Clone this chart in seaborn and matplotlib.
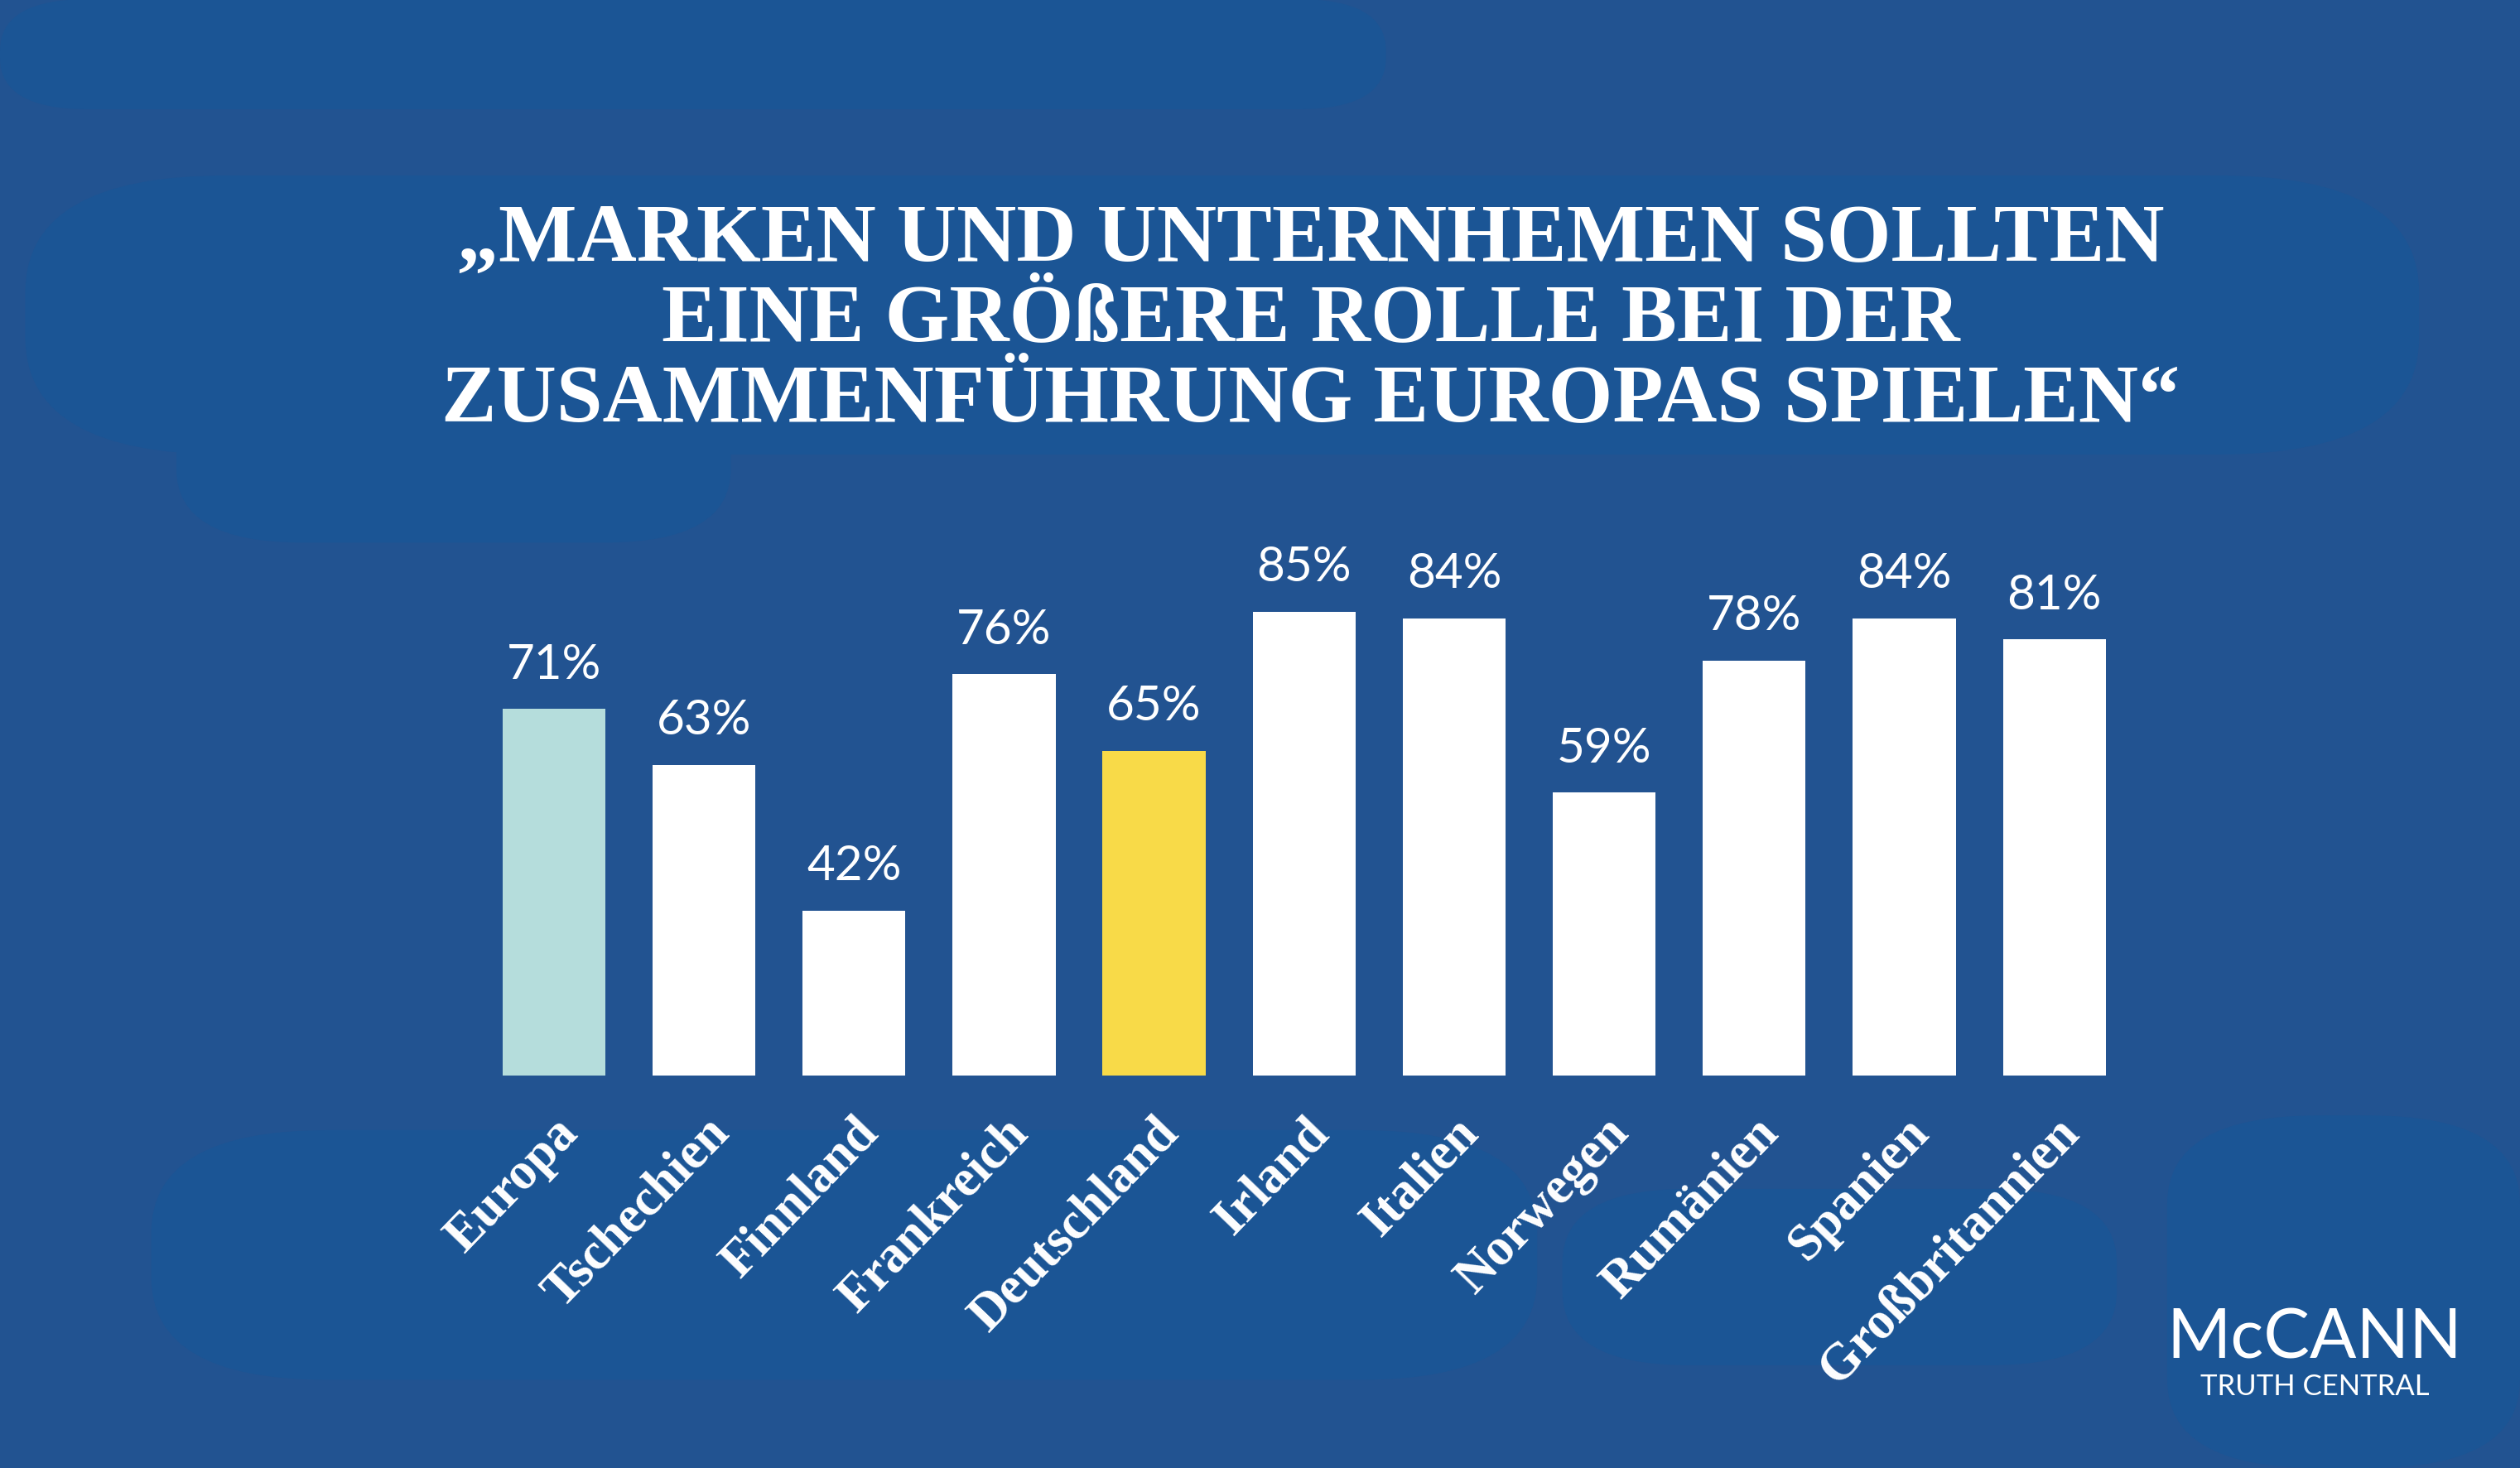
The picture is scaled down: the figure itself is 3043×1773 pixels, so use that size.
import numpy as np
import pandas as pd
import matplotlib.pyplot as plt
from matplotlib.patches import FancyBboxPatch
import seaborn as sns

# Data
countries = ["Europa", "Tschechien", "Finnland", "Frankreich", "Deutschland", "Irland",
             "Italien", "Norwegen", "Rumänien", "Spanien", "Großbritannien"]
values = [71, 63, 42, 76, 65, 85, 84, 59, 78, 84, 81]
bar_colors = ["#B5DDDC", "#FFFFFF", "#FFFFFF", "#FFFFFF", "#F8DA48", "#FFFFFF",
              "#FFFFFF", "#FFFFFF", "#FFFFFF", "#FFFFFF", "#FFFFFF"]

title_lines = ["\u201eMARKEN UND UNTERNHEMEN SOLLTEN",
               "EINE GRÖßERE ROLLE BEI DER",
               "ZUSAMMENFÜHRUNG EUROPAS SPIELEN\u201c"]

bg = "#225391"
blob = "#1B5595"

sns.set_theme(style="white")
plt.rcParams["font.family"] = ["DejaVu Sans"]

fig = plt.figure(figsize=(15.215, 8.87), dpi=200)
fig.patch.set_facecolor(bg)

# subtle background blobs
for (x, y, w, h, r) in [(0.0, 0.925, 0.55, 0.075, 0.035), (0.01, 0.69, 0.95, 0.19, 0.08),
                        (0.07, 0.63, 0.22, 0.12, 0.05), (0.06, 0.06, 0.55, 0.17, 0.07),
                        (0.62, 0.07, 0.22, 0.12, 0.05), (0.86, 0.0, 0.14, 0.24, 0.06)]:
    fig.patches.append(FancyBboxPatch((x, y), w, h, boxstyle=f"round,pad=0,rounding_size={r}",
                                      transform=fig.transFigure, facecolor=blob,
                                      edgecolor="none", zorder=-5))

ax = fig.add_axes([0.190, 0.267, 0.655, 0.387])
ax.set_facecolor("none")
ax.set_zorder(2)

df = pd.DataFrame({"country": countries, "value": values})
sns.barplot(data=df, x="country", y="value", hue="country", palette=bar_colors,
            legend=False, width=0.686, saturation=1, linewidth=0, ax=ax)

ax.set_ylim(18.3, 100)
ax.set_xlim(-0.5, len(countries) - 0.5)
for s in ax.spines.values():
    s.set_visible(False)
ax.set_yticks([])
ax.set_xlabel("")
ax.set_ylabel("")
ax.tick_params(axis="x", length=0, pad=14)
ax.set_xticks(range(len(countries)))
ax.set_xticklabels(countries, rotation=46, ha="right", rotation_mode="anchor",
                   color="white", fontsize=22.5, fontweight="bold",
                   family=["Liberation Serif", "DejaVu Serif"])

for i, v in enumerate(values):
    ax.annotate(f"{v}%", (i, v), xytext=(0, 10), textcoords="offset points",
                ha="center", va="bottom", color="white", fontsize=21,
                family=["Lato", "DejaVu Sans"])

# title
for k, line in enumerate(title_lines):
    fig.text(0.52, 0.836 - k * 0.0545, line, ha="center", va="center", color="white",
             fontsize=36, fontweight="bold", family=["Liberation Serif", "DejaVu Serif"],
             zorder=3)

# logo
fig.text(0.9185, 0.088, "McCANN", ha="center", va="center", color="white",
         fontsize=30, family=["Lato", "DejaVu Sans"], zorder=3)
fig.text(0.9185, 0.056, "TRUTH CENTRAL", ha="center", va="center", color="white",
         fontsize=12.5, family=["Lato", "DejaVu Sans"], zorder=3)

fig.savefig("out.png", dpi=200, facecolor=bg)
